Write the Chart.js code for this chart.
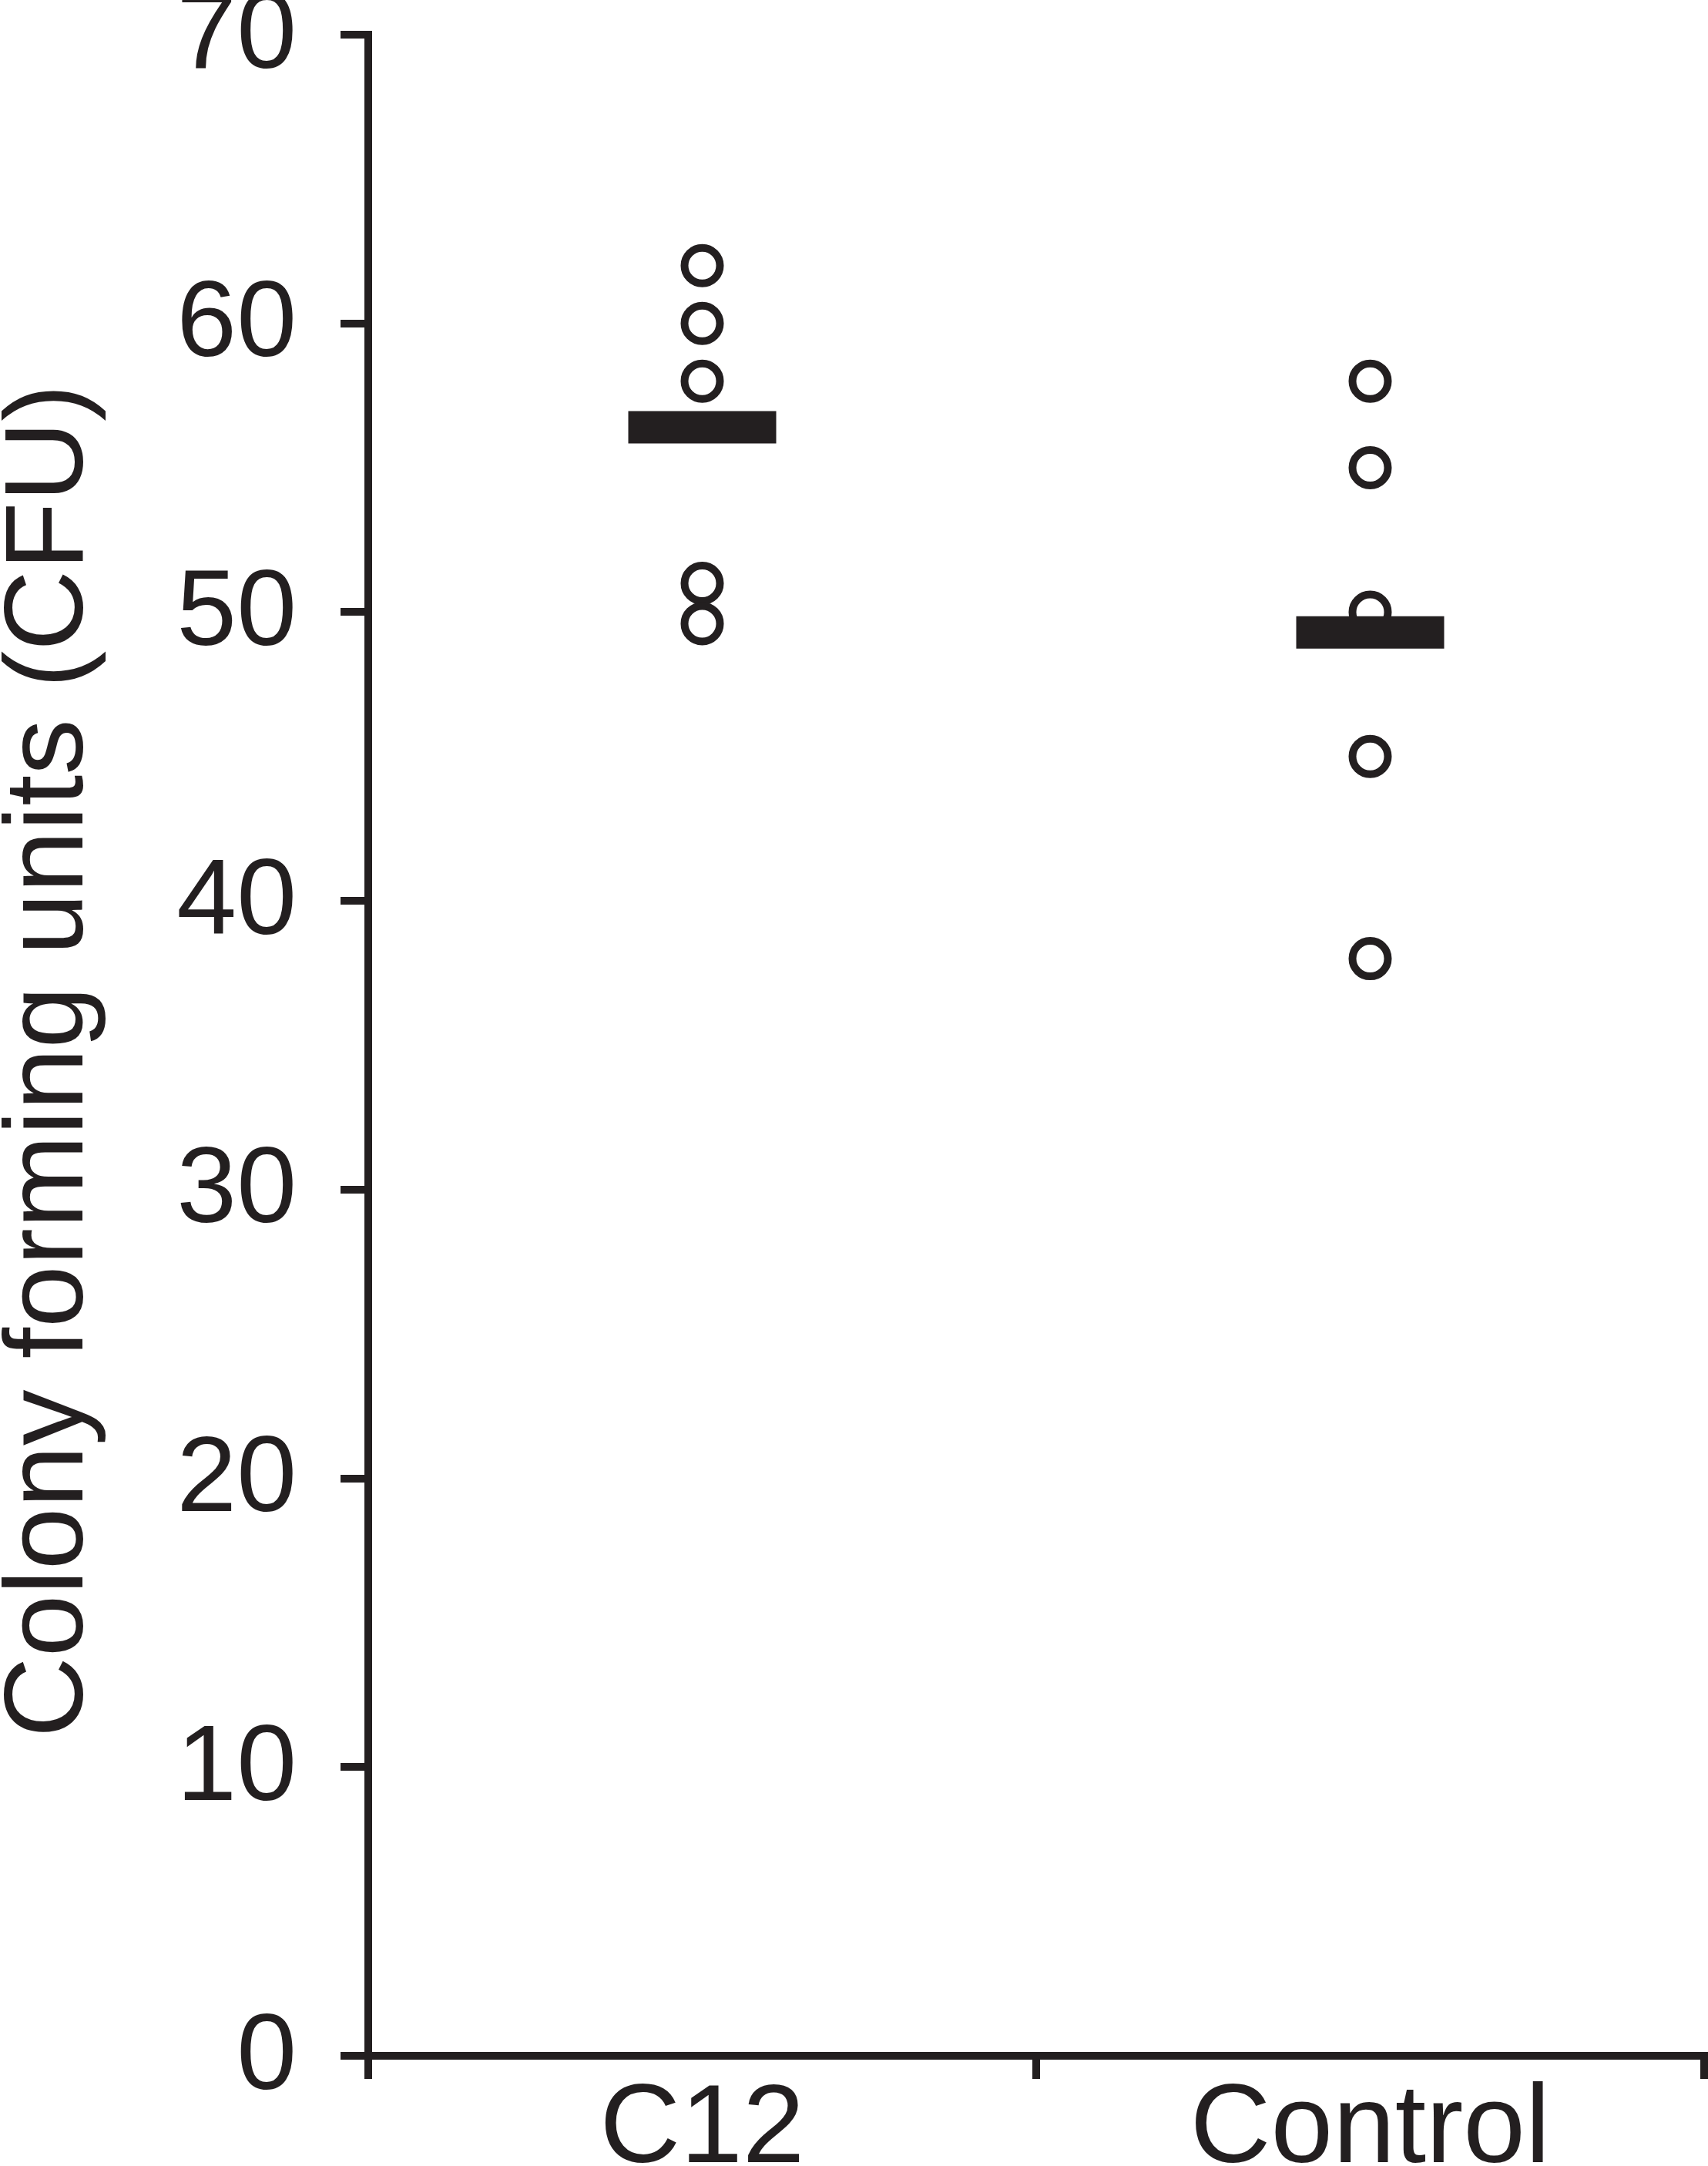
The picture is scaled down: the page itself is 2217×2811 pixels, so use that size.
<!DOCTYPE html>
<html>
<head>
<meta charset="utf-8">
<script src="https://cdn.jsdelivr.net/npm/chart.js@4.4.1/dist/chart.umd.min.js"></script>
<style>
html, body { margin: 0; padding: 0; background: #fff; overflow: hidden; }
#wrap { width: 2217px; height: 2811px; }
</style>
</head>
<body>
<div id="wrap"><canvas id="cfuChart" width="2217" height="2811"></canvas></div>
<script>
// values
const groups = ['C12', 'Control'];
const c12Values = [62, 60, 58, 51, 49.6];
const controlValues = [58, 55, 50, 45, 38];
const groupMeans = [56.4, 49.3];
const yMin = 0;
const yMax = 70;
const yStep = 10;
// trailing space nudges the rotated title down a little, like the original
const yTitle = 'Colony forming units (CFU) ';

const ink = '#231f20';
const fontFamily = '"Liberation Sans", Arial, Helvetica, sans-serif';

const toPoints = (label, values) => values.map(v => ({ x: label, y: v }));

const circleSet = (label, values) => ({
    label: label,
    order: 1,
    data: toPoints(label, values),
    pointStyle: 'circle',
    pointRadius: 23,
    pointHoverRadius: 23,
    pointBorderWidth: 10,
    borderColor: ink,
    pointBorderColor: ink,
    pointBackgroundColor: 'rgba(255,255,255,0)',
    showLine: false
});

new Chart(
    document.getElementById('cfuChart'),
    {
        type: 'scatter',
        data: {
            labels: groups,
            datasets: [
                {
                    // mean bars, drawn on top of the circles
                    label: 'mean',
                    order: 0,
                    data: groups.map((g, i) => ({ x: g, y: groupMeans[i] })),
                    pointStyle: 'line',
                    pointRadius: 96,
                    pointHoverRadius: 96,
                    borderWidth: 42,
                    pointBorderWidth: 42,
                    borderColor: ink,
                    pointBorderColor: ink,
                    showLine: false
                },
                circleSet(groups[0], c12Values),
                circleSet(groups[1], controlValues)
            ]
        },
        options: {
            responsive: false,
            animation: false,
            events: [],
            layout: {
                autoPadding: false,
                padding: { top: 45, right: 5, left: 0, bottom: 0 }
            },
            plugins: {
                legend: { display: false },
                tooltip: { enabled: false },
                title: { display: false }
            },
            scales: {
                x: {
                    type: 'category',
                    labels: groups,
                    offset: true,
                    afterFit: (scale) => {
                        scale.height = 143;
                        scale.paddingLeft = 0;
                        scale.paddingRight = 0;
                    },
                    border: { display: true, width: 10, color: ink },
                    grid: {
                        offset: true,
                        drawOnChartArea: false,
                        drawTicks: true,
                        tickLength: 30,
                        lineWidth: 10,
                        color: ink
                    },
                    ticks: {
                        color: ink,
                        padding: 10,
                        maxRotation: 0,
                        font: { family: fontFamily, size: 145, lineHeight: 0.8 }
                    }
                },
                y: {
                    min: yMin,
                    max: yMax,
                    afterFit: (scale) => {
                        scale.width = 478;
                        scale.paddingTop = 0;
                        scale.paddingBottom = 0;
                    },
                    border: { display: true, width: 10, color: ink },
                    grid: {
                        drawOnChartArea: false,
                        drawTicks: true,
                        tickLength: 36,
                        lineWidth: 10,
                        color: ink
                    },
                    ticks: {
                        stepSize: yStep,
                        color: ink,
                        padding: 57,
                        labelOffset: 4,
                        font: { family: fontFamily, size: 140, lineHeight: 0.6 }
                    },
                    title: {
                        display: true,
                        text: yTitle,
                        color: ink,
                        padding: { top: 2, bottom: 0 },
                        font: { family: fontFamily, size: 145, lineHeight: 0.9 }
                    }
                }
            }
        }
    }
);
</script>
</body>
</html>
